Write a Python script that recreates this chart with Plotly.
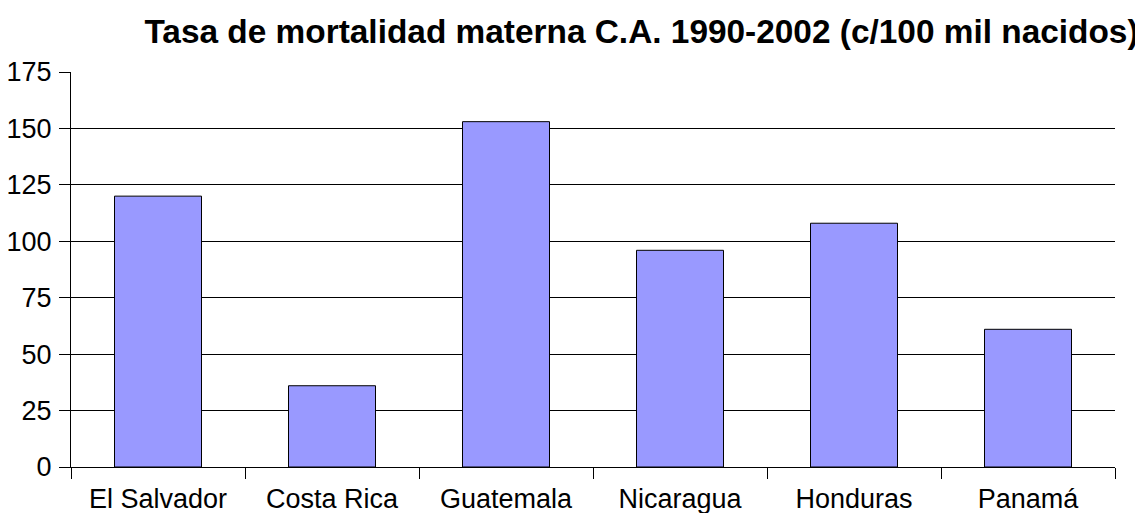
import plotly.graph_objects as go

categories = ["El Salvador", "Costa Rica", "Guatemala", "Nicaragua", "Honduras", "Panamá"]
values = [120, 36, 153, 96, 108, 61]
y_ticks = [0, 25, 50, 75, 100, 125, 150, 175]
title_text = "Tasa de mortalidad materna C.A. 1990-2002 (c/100 mil nacidos)"

FONT = "Liberation Sans, Arial, sans-serif"
W, H = 1143, 513
OFF = 8  # page body margin

fig = go.Figure(
    go.Bar(
        x=categories,
        y=values,
        marker=dict(color="#9999FF", line=dict(color="#000000", width=1)),
        hoverinfo="x+y",
    )
)

fig.update_layout(
    width=W,
    height=H,
    margin=dict(l=71 - OFF, r=W + OFF - 1115, t=72 - OFF, b=H + OFF - 467, autoexpand=False),
    paper_bgcolor="white",
    plot_bgcolor="white",
    bargap=0.5,
    showlegend=False,
    font=dict(family=FONT, size=27, color="black"),
    title=dict(
        text="<b>" + title_text + "</b>",
        font=dict(family=FONT, size=33.4, color="black"),
        x=(641.5 - OFF) / W,
        xanchor="center",
        xref="container",
        y=1 - (31 - OFF) / H,
        yanchor="middle",
        yref="container",
    ),
    xaxis=dict(
        type="category",
        showline=True,
        linecolor="black",
        linewidth=1,
        ticks="outside",
        tickson="boundaries",
        ticklen=11,
        tickcolor="black",
        tickwidth=1,
        showgrid=False,
        tickfont=dict(family=FONT, size=27, color="black"),
        ticklabelstandoff=8,
        automargin=False,
    ),
    yaxis=dict(
        range=[0, 175],
        tickvals=y_ticks,
        showline=True,
        linecolor="black",
        linewidth=1,
        ticks="outside",
        ticklen=11,
        tickcolor="black",
        tickwidth=1,
        showgrid=True,
        gridcolor="black",
        gridwidth=1,
        zeroline=False,
        tickfont=dict(family=FONT, size=27, color="black"),
        ticklabelstandoff=2,
        automargin=False,
    ),
)

fig.write_html("out.html")
